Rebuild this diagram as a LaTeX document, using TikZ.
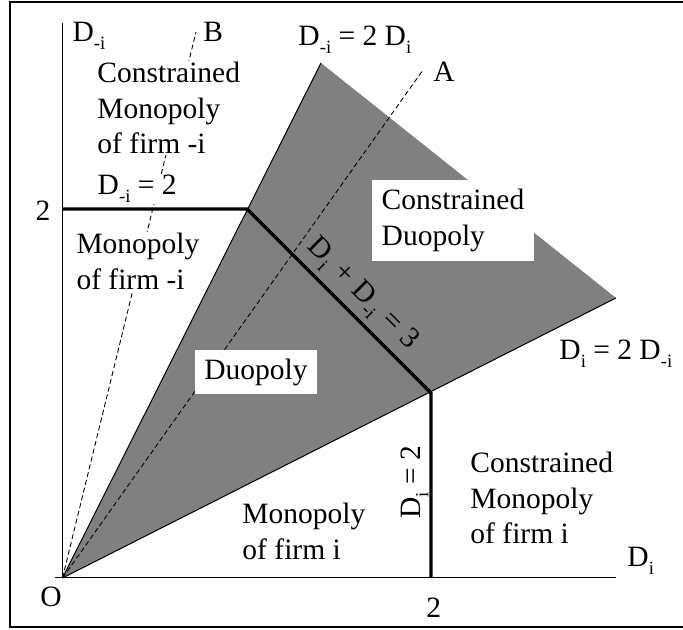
\documentclass[tikz,border=0pt]{standalone}
\usepackage{fontspec}
\setmainfont{Liberation Serif}
\newcommand{\sbs}[1]{\raisebox{-3pt}{\fontsize{7.5}{7.5}\selectfont #1}}
\begin{document}
\begin{tikzpicture}[x=0.4pt,y=-0.4pt,
  font=\fontsize{11.8}{14.2}\selectfont,
  lbl/.style={inner sep=0pt},
  whitelbl/.style={inner sep=0.5pt,fill=white},
  thickln/.style={line width=1.3pt},
  thinln/.style={line width=0.4pt},
  dashln/.style={line width=0.35pt,dash pattern=on 2pt off 1.2pt},
  region/.style={fill=black!50,draw=none},
  boxlbl/.style={fill=white,inner sep=0pt,align=left}]
\useasboundingbox (0,0) rectangle (683,630);
\draw[line width=1pt] (10,2) rectangle (700,627);
% key points
\coordinate (O) at (62.5,578);
\coordinate (T) at (321,63);
\coordinate (R) at (616,298);
\coordinate (K1) at (247,209);
\coordinate (K2) at (431,393);
\coordinate (Y2) at (62.5,209);
\coordinate (X2) at (431,578);
\coordinate (Aend) at (423,70);
\coordinate (Bend) at (196,32);
\coordinate (Ytop) at (62.5,23);
\coordinate (Xleft) at (55,578);
\coordinate (Xright) at (616,578);
% shaded duopoly region
\fill[region] (O) -- (T) -- (R) -- cycle;
\draw[thinln] (O) -- (T);
\draw[thinln] (O) -- (R);
% dashed rays
\draw[dashln] (O) -- (Aend);
\draw[dashln] (O) -- (Bend);
% white-backed labels
\node[whitelbl,align=left,anchor=north west] (cmi) at (95.75,60.75) {Constrained\\Monopoly\\of firm -i};
\node[whitelbl,anchor=base west] (dmi2) at (96,195) {D\sbs{-i} = 2};
\node[whitelbl,align=left,anchor=north west] (mmi) at (74.75,231.75) {Monopoly\\of firm -i};
\node[boxlbl,minimum width=64.8pt,minimum height=32.4pt] (cduo) at (453,220.5) {Constrained\\Duopoly};
\node[boxlbl,minimum width=48.8pt,minimum height=17.6pt] (duo) at (256,372) {Duopoly};
% thick boundaries
\draw[thickln] (Y2) -- (K1) -- (K2) -- (X2);
% axes
\draw[thinln] (Ytop) -- (O);
\draw[thinln] (Xleft) -- (Xright);
% labels
\node[lbl,anchor=base west] (ly) at (72,42) {D\sbs{-i}};
\node[lbl,anchor=base west] (lB) at (203,42) {B};
\node[lbl,anchor=base west] (lup) at (298,46) {D\sbs{-i} = 2 D\sbs{i}};
\node[lbl,anchor=base west] (lA) at (433,82) {A};
\node[lbl,anchor=base west] (l2y) at (35,221) {2};
\node[lbl,anchor=base west] (lO) at (40,607) {O};
\node[lbl,anchor=base west] (l2x) at (426,618) {2};
\node[lbl,anchor=base west] (lx) at (627,567) {D\sbs{i}};
\node[lbl,anchor=base west] (llow) at (559,360) {D\sbs{i} = 2 D\sbs{-i}};
\node[lbl,align=left,anchor=north west] (cmii) at (470,452) {Constrained\\Monopoly\\of firm i};
\node[lbl,align=left,anchor=north west] (mii) at (242,503) {Monopoly\\of firm i};
\node[lbl,rotate=90,anchor=base] (ldi2) at (421,482) {D\sbs{i} = 2};
\node[lbl,rotate=-45,anchor=base] (lsum) at (358,299) {D\sbs{i}\hspace{0.8pt} +\hspace{0.8pt} D\sbs{-i}\hspace{0.8pt} =\hspace{0.8pt} 3};
\end{tikzpicture}
\end{document}
